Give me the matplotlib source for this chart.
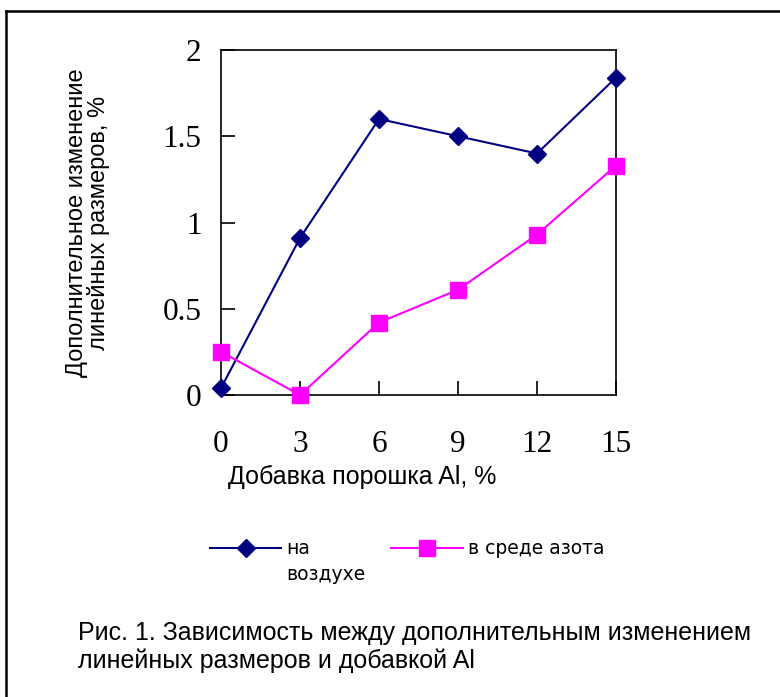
import matplotlib
matplotlib.use('Agg')
import matplotlib.pyplot as plt
from matplotlib.lines import Line2D

# данные
dobavka = [0, 3, 6, 9, 12, 15]
na_vozduhe = [0.04, 0.91, 1.60, 1.50, 1.40, 1.84]
v_azote = [0.25, 0.00, 0.42, 0.61, 0.93, 1.33]
yticks = [0, 0.5, 1, 1.5, 2]
ytick_labels = ['0', '0.5', '1', '1.5', '2']

W, H = 780, 697
fig = plt.figure(figsize=(W / 100, H / 100), dpi=100)

# рамка вокруг рисунка (только сверху и слева, дальше обрезана)
fig.add_artist(Line2D([6 / W, 1.0], [1 - 11 / H, 1 - 11 / H], color='black',
                      linewidth=1.8, transform=fig.transFigure))
fig.add_artist(Line2D([6 / W, 6 / W], [0.0, 1 - 11 / H], color='black',
                      linewidth=1.8, transform=fig.transFigure))

ax = fig.add_axes([221 / W, 302 / H, 395 / W, 345 / H])
ax.plot(dobavka, na_vozduhe, color='#000080', marker='D', markersize=9,
        linewidth=1.5, label='на', clip_on=False, zorder=3)
ax.plot(dobavka, v_azote, color='#FF00FF', marker='s', markersize=11,
        linewidth=1.5, label='в среде азота', clip_on=False, zorder=3)

ax.set_xlim(0, 15)
ax.set_ylim(0, 2)
ax.set_xticks(dobavka)
ax.set_yticks(yticks)
ax.set_yticklabels(ytick_labels)
for s in ax.spines.values():
    s.set_linewidth(1.2)
ax.tick_params(direction='in', length=10, width=1.2)
ax.tick_params(axis='x', pad=25)
ax.tick_params(axis='y', pad=14)
for lab in ax.get_xticklabels() + ax.get_yticklabels():
    lab.set_fontfamily('Liberation Serif')
    lab.set_fontsize(22.5)

ax.set_ylabel('Дополнительное изменение\nлинейных размеров, %',
              fontfamily='Liberation Sans', fontsize=17, linespacing=0.95)
ax.yaxis.set_label_coords(-0.28, 0.5)

fig.text(228 / W, 1 - 477 / H, 'Добавка порошка Al, %', fontfamily='Liberation Sans',
         fontsize=18, va='center', ha='left')

leg = fig.legend(loc='center left', bbox_to_anchor=(193 / W, 1 - 549 / H), ncol=2,
                 frameon=False, prop={'family': 'DejaVu Sans', 'size': 13.5},
                 handlelength=3.8, handletextpad=0.3, columnspacing=4.3)

fig.canvas.draw()
t = leg.get_texts()[0]
bb = t.get_window_extent()
fig.text(bb.x0 / W, (bb.y0 - 25) / H, 'воздухе', family='DejaVu Sans', fontsize=13.5,
         ha='left', va='bottom')

fig.text(78 / W, 1 - 647 / H,
         'Рис. 1. Зависимость между дополнительным изменением\nлинейных размеров и добавкой Al',
         family='Liberation Sans', fontsize=18,
         ha='left', va='center', linespacing=1.2)

fig.savefig('out.png', dpi=100)
